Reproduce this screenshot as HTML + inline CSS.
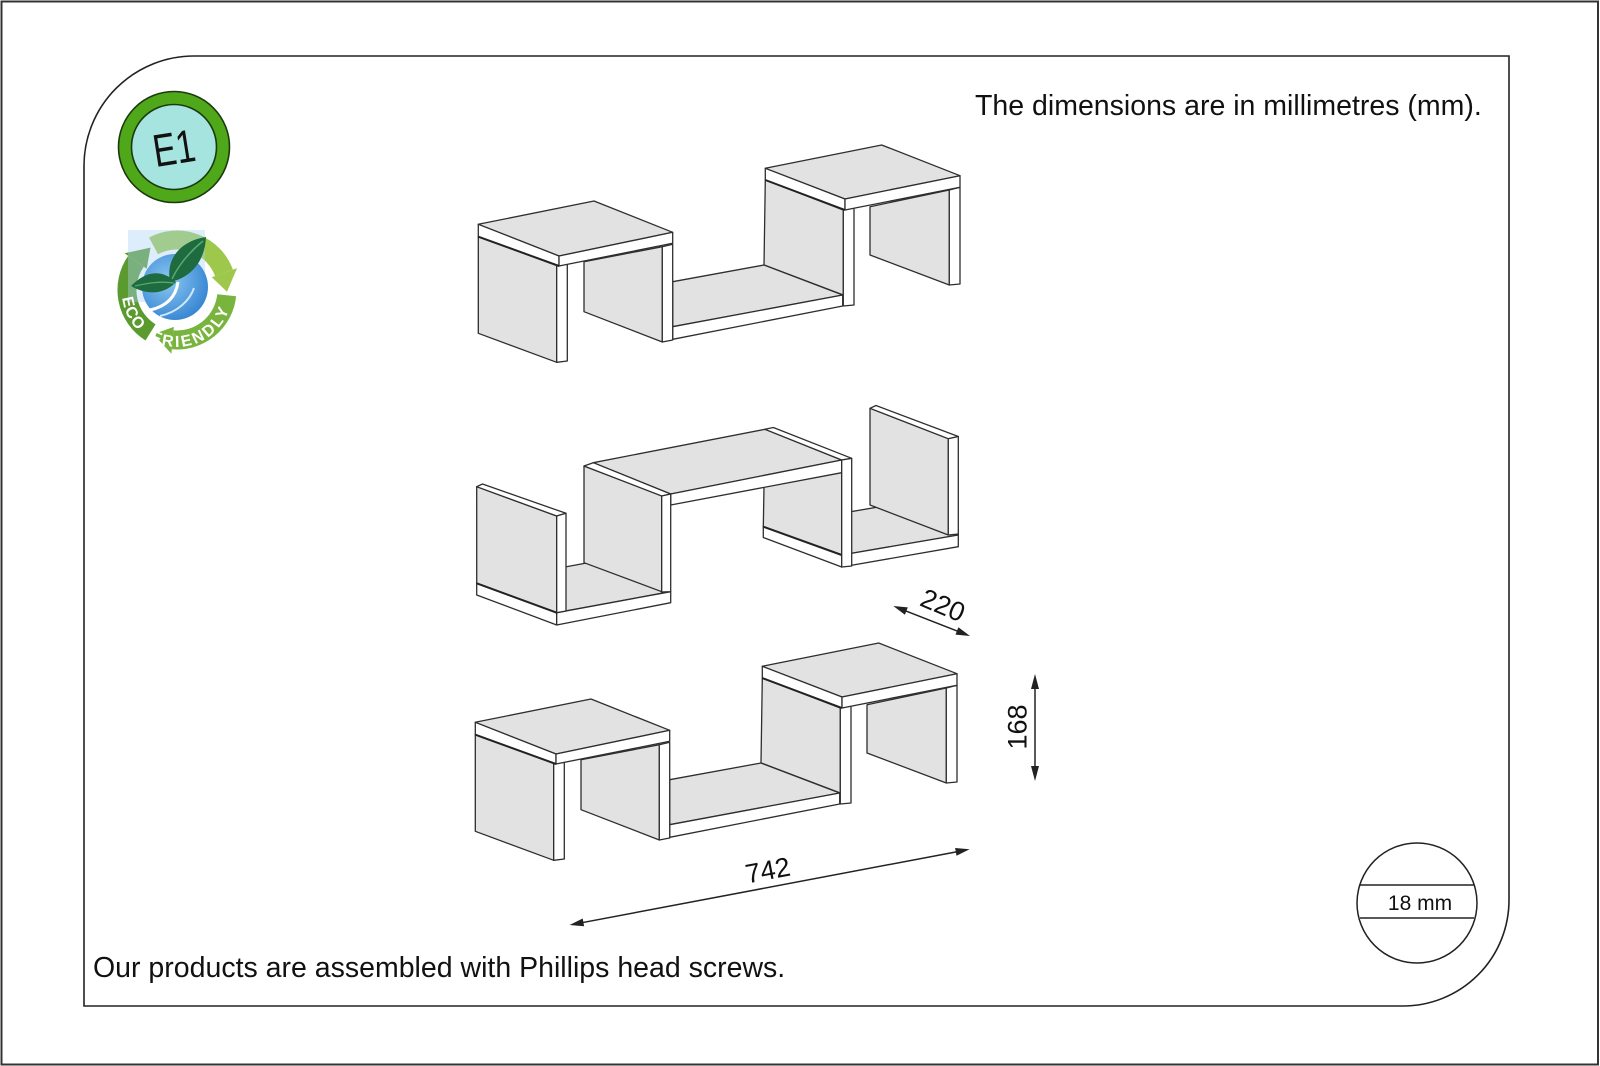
<!DOCTYPE html>
<html>
<head>
<meta charset="utf-8">
<style>
html,body{margin:0;padding:0;background:#fff;}
svg{display:block;}
.g{fill:#e2e2e2;stroke:#2e2e2e;stroke-width:1.3;stroke-linejoin:round;}
.w{fill:#ffffff;stroke:#2e2e2e;stroke-width:1.3;stroke-linejoin:round;}
.t{font-family:"Liberation Sans",Arial,sans-serif;fill:#111;}
</style>
</head>
<body>
<svg width="1600" height="1066" viewBox="0 0 1600 1066" xmlns="http://www.w3.org/2000/svg">
<defs>
<radialGradient id="bl" cx="0.4" cy="0.4" r="0.7">
<stop offset="0" stop-color="#8cc8f2"/>
<stop offset="1" stop-color="#2f7fcf"/>
</radialGradient>
<path id="tp" d="M122,291.9 A55,55 0 0 0 232,291.9"/>
</defs>

<!-- outer border -->
<rect x="1.5" y="1.5" width="1596.5" height="1063" fill="#fff" stroke="#333" stroke-width="2"/>
<!-- inner frame -->
<path d="M194,56 H1509 V900 A106,106 0 0 1 1403,1006 H84 V166 A110,110 0 0 1 194,56 Z" fill="none" stroke="#222" stroke-width="1.6"/>

<!-- E1 badge -->
<circle cx="174" cy="147" r="55.5" fill="#4ea81a" stroke="#1c3a0e" stroke-width="1.6"/>
<circle cx="174" cy="147" r="42.5" fill="#a6e4e0" stroke="#1c3a0e" stroke-width="1.6"/>
<text class="t" transform="translate(174,148) rotate(-9)" x="0" y="16" text-anchor="middle" font-size="46" textLength="42" lengthAdjust="spacingAndGlyphs">E1</text>

<!-- Eco friendly logo -->
<g>
<path d="M150.5,332.4 A50,50 0 0 1 136,261.3" fill="none" stroke="#5a9a2e" stroke-width="19"/>
<polygon points="146.7,268.8 124.6,253.3 150.5,247.6" fill="#5a9a2e"/>
<path d="M153.5,245.9 A50,50 0 0 1 224,272.9" fill="none" stroke="#9dc84b" stroke-width="19"/>
<polygon points="211.8,277.3 237.1,268.1 227,291.7" fill="#9dc84b"/>
<path d="M226.7,295.2 A50,50 0 0 1 172.6,339.8" fill="none" stroke="#78b43e" stroke-width="19"/>
<polygon points="173.8,326.9 171.4,353.8 153.5,334.1" fill="#78b43e"/>
<rect x="128" y="230" width="77" height="72" fill="#a9d3f5" opacity="0.4"/>
<circle cx="175" cy="287" r="33" fill="url(#bl)"/>
<path d="M150,310 C168,306 176,296 178,282" fill="none" stroke="#ffffff" stroke-width="3"/>
<path d="M160,316 C178,312 190,300 194,288" fill="none" stroke="#cde6f8" stroke-width="2"/>
<path d="M170,282 C165,255 185,240 206,237 C205,262 190,278 170,282 Z" fill="#1d6b3f"/>
<path d="M172,279 C180,262 192,250 203,241" fill="none" stroke="#5aa872" stroke-width="1.5"/>
<path d="M176,282 C160,268 145,272 131,286 C148,296 165,294 176,282 Z" fill="#1d6b3f"/>
<path d="M174,283 C160,281 148,283 135,286" fill="none" stroke="#5aa872" stroke-width="1.3"/>
<text font-family="Liberation Sans, Arial, sans-serif" font-weight="bold" font-size="16" fill="#fff" letter-spacing="1"><textPath href="#tp" startOffset="6">ECO</textPath></text>
<text font-family="Liberation Sans, Arial, sans-serif" font-weight="bold" font-size="16" fill="#fff" letter-spacing="2.5"><textPath href="#tp" startOffset="58">FRIENDLY</textPath></text>
</g>

<!-- Texts -->
<text class="t" x="975" y="115" font-size="28.5">The dimensions are in millimetres (mm).</text>
<text class="t" x="93" y="977" font-size="28.5">Our products are assembled with Phillips head screws.</text>

<!-- 18 mm circle -->
<circle cx="1417" cy="903" r="60" fill="none" stroke="#222" stroke-width="1.5"/>
<line x1="1360" y1="885" x2="1474" y2="885" stroke="#222" stroke-width="1.5"/>
<line x1="1360" y1="918" x2="1474" y2="918" stroke="#222" stroke-width="1.5"/>
<text class="t" x="1420" y="910" font-size="21" text-anchor="middle">18 mm</text>

<!-- SHELF 1 -->
<g id="shelfA">
<polygon class="g" points="870,206.7 949.3,190 949.3,285 870,255"/>
<polygon class="w" points="949.3,190 960,187.3 960,284 949.3,285"/>
<polygon class="g" points="765.3,180 843.3,210 843.3,295 764,265"/>
<polygon class="w" points="843.3,210 854,208 854,305 843.3,306"/>
<polygon class="g" points="765.3,168.3 881.7,145 960,175.7 845,199"/>
<polygon class="w" points="765.3,168.3 845,199 845,210 765.3,180"/>
<polygon class="w" points="845,199 960,175.7 960,187.3 845,210"/>
<polygon class="g" points="672.7,281.7 764,265 842.7,295 672.7,326.7"/>
<polygon class="w" points="672.7,326.7 842.7,295 842.7,306 672.7,339.3"/>
<polygon class="g" points="584,261.7 662.3,246.7 662.3,342 584,311.7"/>
<polygon class="w" points="662.3,246.7 672.7,244.3 672.7,340 662.3,342"/>
<polygon class="g" points="478.3,236.7 556.7,265 556.7,362.3 478.3,333.3"/>
<polygon class="w" points="556.7,265 567.3,263 567.3,361 556.7,362.3"/>
<polygon class="g" points="478.3,224.3 594,201 672.7,232.3 559,256"/>
<polygon class="w" points="478.3,224.3 559,256 559,266 478.3,236.7"/>
<polygon class="w" points="559,256 672.7,232.3 672.7,243.3 559,266"/>
<line x1="478.3" y1="236.7" x2="559" y2="266" stroke="#222" stroke-width="2"/>
<line x1="765.3" y1="180" x2="845" y2="210" stroke="#222" stroke-width="2"/>
</g>

<!-- SHELF 2 -->
<g>
<polygon class="g" points="763.3,526.7 880,506.7 958.3,535 841.7,555"/>
<polygon class="w" points="763.3,526.7 841.7,555 841.7,567 763.3,537.5"/>
<polygon class="w" points="841.7,555 958.3,535 958.3,546.7 841.7,567"/>
<polygon class="g" points="870,408.3 948.3,438.7 948.3,535 870,505"/>
<polygon class="w" points="870,408.3 876,405.5 958.3,436.5 948.3,438.7"/>
<polygon class="w" points="948.3,438.7 958.3,436.5 958.3,534 948.3,535"/>
<polygon class="g" points="765,429.3 841.7,460 841.7,555 763.3,526.7"/>
<polygon class="g" points="593.3,462.7 765,429.3 841.7,460 670.7,494"/>
<polygon class="w" points="670.7,494 841.7,460 841.7,472.7 670.7,505"/>
<polygon class="w" points="765,429.3 773.3,427.5 851.7,458.3 841.7,460"/>
<polygon class="w" points="841.7,460 851.7,458.3 851.7,566 841.7,567"/>
<line x1="763.3" y1="526.7" x2="841.7" y2="555" stroke="#222" stroke-width="2"/>
<polygon class="g" points="476.7,583.3 590,562.4 670,591.7 556.7,612.7"/>
<polygon class="w" points="476.7,583.3 556.7,612.7 556.7,625 476.7,595"/>
<polygon class="w" points="556.7,612.7 670.7,591.7 670.7,602.7 556.7,625"/>
<polygon class="g" points="584,466 661.7,495.5 661.7,591.7 584,562.7"/>
<polygon class="w" points="584,466 593.3,462.7 670.7,494 661.7,496"/>
<polygon class="w" points="661.7,496 670.7,494 670.7,591.7 661.7,592"/>
<polygon class="g" points="476.7,486.7 556.7,516 556.7,612.7 476.7,583.3"/>
<polygon class="w" points="476.7,486.7 482.5,484 566,513.3 556.7,516"/>
<polygon class="w" points="556.7,516 566,513.3 566,611 556.7,612.7"/>
<line x1="476.7" y1="583.3" x2="556.7" y2="612.7" stroke="#222" stroke-width="2"/>
</g>

<!-- SHELF 3 (same as shelf 1, shifted) -->
<use href="#shelfA" transform="translate(-3,498)"/>

<!-- Dimension 220 -->
<line x1="900" y1="608.7" x2="963" y2="633.3" stroke="#222" stroke-width="1.5"/>
<polygon points="970,636 955.5,634.6 958.4,627.2" fill="#222"/>
<polygon points="893.3,606 904.9,614.8 907.8,607.4" fill="#222"/>
<text class="t" transform="translate(943,605) rotate(23)" x="0" y="9.5" font-size="27" text-anchor="middle">220</text>

<!-- Dimension 168 -->
<line x1="1035" y1="680" x2="1035" y2="775" stroke="#222" stroke-width="1.5"/>
<polygon points="1035,674 1031,689 1039,689" fill="#222"/>
<polygon points="1035,781 1031,766 1039,766" fill="#222"/>
<text class="t" transform="translate(1017,727) rotate(-90)" x="0" y="9.5" font-size="27" text-anchor="middle">168</text>

<!-- Dimension 742 -->
<line x1="576" y1="923.8" x2="963" y2="850.6" stroke="#222" stroke-width="1.5"/>
<polygon points="969.6,849.3 956.5,855.8 955.1,848.0" fill="#222"/>
<polygon points="569.6,925 584.1,926.3 582.7,918.5" fill="#222"/>
<text class="t" transform="translate(767.7,870) rotate(-10.7)" x="0" y="9.5" font-size="27" text-anchor="middle">742</text>
</svg>
</body>
</html>
